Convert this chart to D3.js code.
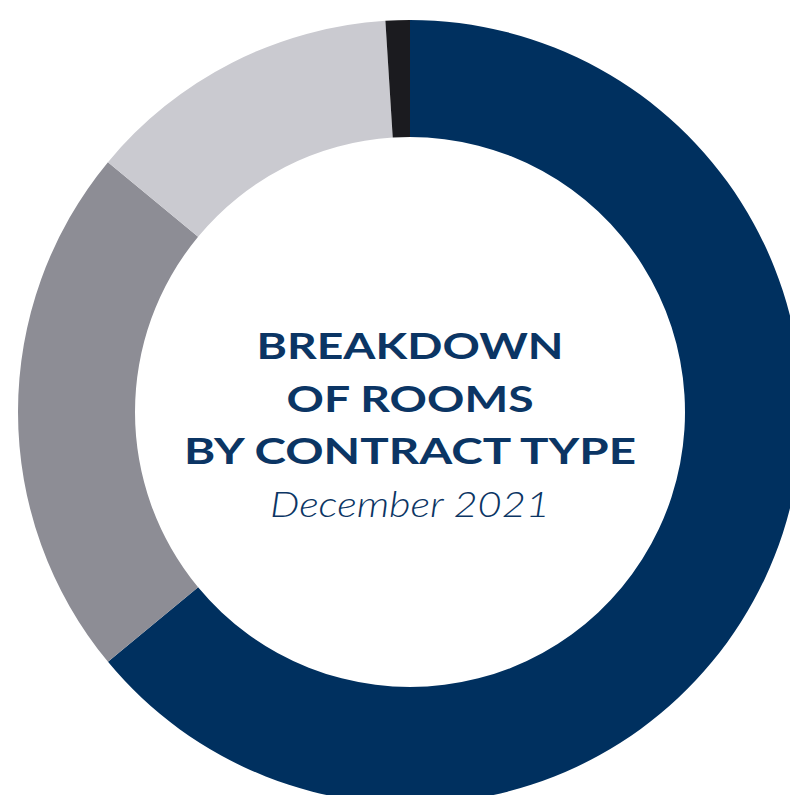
<!DOCTYPE html>
<html>
<head>
<meta charset="utf-8">
<script src="https://cdn.jsdelivr.net/npm/d3@7"></script>
<style>
  body { margin: 0; background: #fff; }
</style>
</head>
<body>
<div id="chart"></div>
<script>
'use strict';

// share of rooms per contract type, clockwise from 12 o'clock
const categories = ['Type A', 'Type B', 'Type C', 'Type D'];
const shares = [64, 22, 13, 1];
const colors = ['#00305f', '#8d8d95', '#cacad0', '#1b1b1f'];

const titleLines = ['BREAKDOWN', 'OF ROOMS', 'BY CONTRACT TYPE'];
const subtitle = 'December 2021';

const width = 790, height = 795;
const cx = 410, cy = 412;
const outerR = 392, innerR = 275;

const svg = d3.select('#chart')
    .append('svg')
    .attr('width', width)
    .attr('height', height);

const g = svg.append('g')
    .attr('transform', `translate(${cx},${cy})`);

const data = categories.map((c, i) => ({ name: c, value: shares[i], color: colors[i] }));

const pie = d3.pie().sort(null).value(d => d.value);
const arc = d3.arc().innerRadius(innerR).outerRadius(outerR);

g.selectAll('path')
    .data(pie(data))
    .join('path')
    .attr('d', arc)
    .attr('fill', d => d.data.color);

// centre text
const titleWidths = [307, 247, 452];
const baselines = [359, 412, 464];

g.selectAll('text.title')
    .data(titleLines)
    .join('text')
    .classed('title', true)
    .attr('x', 0)
    .attr('y', (d, i) => baselines[i] - cy)
    .attr('text-anchor', 'middle')
    .attr('textLength', (d, i) => titleWidths[i])
    .attr('lengthAdjust', 'spacingAndGlyphs')
    .style('font-family', 'Lato, "Open Sans", sans-serif')
    .style('font-weight', 700)
    .style('font-size', '36px')
    .style('fill', '#0b3564')
    .text(d => d);

g.append('text')
    .attr('x', 0)
    .attr('y', 517 - cy)
    .attr('text-anchor', 'middle')
    .attr('textLength', 280)
    .attr('lengthAdjust', 'spacingAndGlyphs')
    .style('font-family', 'Lato, "Open Sans", sans-serif')
    .style('font-weight', 300)
    .style('font-style', 'italic')
    .style('font-size', '35px')
    .style('fill', '#0b3564')
    .text(subtitle);
</script>
</body>
</html>
